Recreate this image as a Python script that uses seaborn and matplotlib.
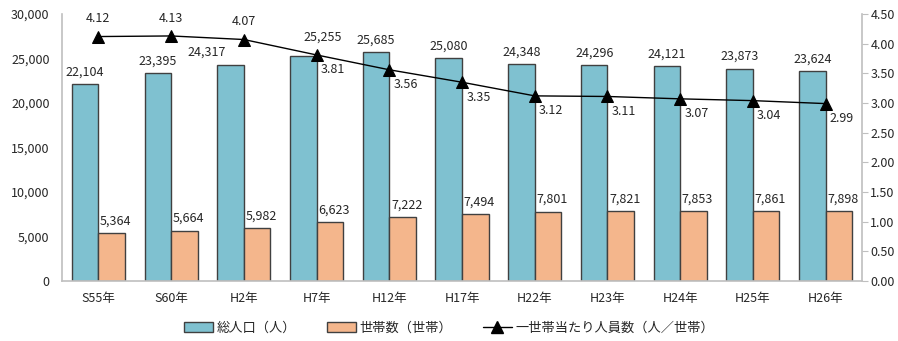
import numpy as np
import pandas as pd
import matplotlib
matplotlib.use('Agg')
import matplotlib.pyplot as plt
from matplotlib.patches import Patch
from matplotlib.lines import Line2D
from matplotlib.ticker import FuncFormatter
import seaborn as sns

# データ
years = ["S55年", "S60年", "H2年", "H7年", "H12年", "H17年", "H22年", "H23年", "H24年", "H25年", "H26年"]
total_pop = [22104, 23395, 24317, 25255, 25685, 25080, 24348, 24296, 24121, 23873, 23624]
households = [5364, 5664, 5982, 6623, 7222, 7494, 7801, 7821, 7853, 7861, 7898]
per_house = [4.12, 4.13, 4.07, 3.81, 3.56, 3.35, 3.12, 3.11, 3.07, 3.04, 2.99]
series_names = ["総人口（人）", "世帯数（世帯）", "一世帯当たり人員数（人／世帯）"]

sns.set_style('white')
plt.rcParams['font.family'] = ['Noto Sans CJK JP', 'DejaVu Sans']

blue = '#7FC1D0'
orange = '#F4B68C'
edge = '#404040'
grey = '#BFBFBF'
fs = 9

df = pd.DataFrame({
    'year': years * 2,
    'value': total_pop + households,
    'series': [series_names[0]] * len(years) + [series_names[1]] * len(years),
})

fig = plt.figure(figsize=(8.98, 3.41), dpi=100)
ax = fig.add_axes([62/898, 1-281/341, 800/898, 267/341])

sns.barplot(data=df, x='year', y='value', hue='series', order=years,
            hue_order=series_names[:2], palette=[blue, orange], saturation=1,
            width=0.73, edgecolor=edge, linewidth=1, ax=ax, legend=False)

ax.set_ylim(0, 30000)
ax.set_yticks(np.arange(0, 30001, 5000))
ax.yaxis.set_major_formatter(FuncFormatter(lambda v, p: f'{int(v):,}'))
ax.set_xlim(-0.5, len(years) - 0.5)
ax.set_xlabel('')
ax.set_ylabel('')
ax.tick_params(axis='both', length=0, labelsize=fs, colors='#262626')
ax.tick_params(axis='x', pad=8)
ax.tick_params(axis='y', pad=9)
for s in ['top', 'right']:
    ax.spines[s].set_visible(False)
ax.spines['left'].set_color(grey)
ax.spines['bottom'].set_color(grey)
ax.spines['left'].set_linewidth(1.2)
ax.spines['bottom'].set_linewidth(1.2)

# 棒グラフのラベル（線と重なるものは少しずらす）
nudge = {2: (-17, 0), 3: (14, 5)}
for ci, cont in enumerate(ax.containers):
    vals = total_pop if ci == 0 else households
    for i, (bar, v) in enumerate(zip(cont, vals)):
        if ci == 0:
            dx, dy = nudge.get(i, (0, 0))
        else:
            dx, dy = 3, 0
        ax.annotate(f'{v:,}', (bar.get_x() + bar.get_width() / 2, bar.get_height()),
                    xytext=(dx, 4 + dy), textcoords='offset points',
                    ha='center', va='bottom', fontsize=fs, color='#262626')

# 一世帯当たり人員数
ax2 = ax.twinx()
sns.lineplot(x=np.arange(len(years)), y=per_house, ax=ax2, color='black',
             linewidth=1.0, marker='^', markersize=9, markeredgecolor='black',
             legend=False)
ax2.set_ylim(0, 4.5)
ax2.set_yticks(np.arange(0, 4.51, 0.5))
ax2.yaxis.set_major_formatter(FuncFormatter(lambda v, p: f'{v:.2f}'))
ax2.tick_params(axis='y', length=4, color=grey, labelsize=fs, colors='#262626', pad=2)
ax2.tick_params(axis='y', color=grey)
for s in ['top', 'left', 'bottom']:
    ax2.spines[s].set_visible(False)
ax2.spines['right'].set_color(grey)
ax2.spines['right'].set_linewidth(1.2)
ax2.set_ylabel('')

for i, v in enumerate(per_house):
    if i < 3:
        off, ha, va = (0, 8), 'center', 'bottom'
    else:
        off, ha, va = (3, -6), 'left', 'top'
    ax2.annotate(f'{v:.2f}', (i, v), xytext=off, textcoords='offset points',
                 ha=ha, va=va, fontsize=fs, color='#262626')

handles = [
    Patch(facecolor=blue, edgecolor=edge, linewidth=1),
    Patch(facecolor=orange, edgecolor=edge, linewidth=1),
    Line2D([0], [0], color='black', linewidth=1.0, marker='^', markersize=8),
]
fig.legend(handles, series_names, loc='center', bbox_to_anchor=(0.5, 1-328/341),
           ncol=3, frameon=False, fontsize=9.5, handlelength=2.2, handleheight=0.7,
           columnspacing=2.3, handletextpad=0.3)

fig.savefig('out.png', dpi=100)
